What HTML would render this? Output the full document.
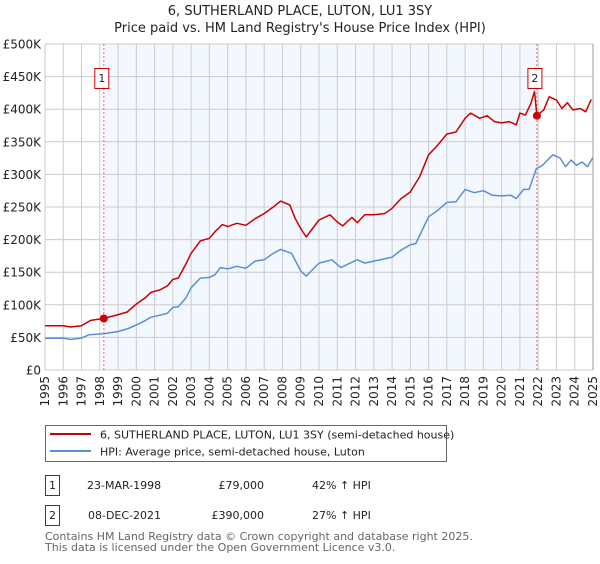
<!DOCTYPE html>
<html><head><meta charset="utf-8"><style>
body{margin:0;background:#fff;width:600px;height:560px;overflow:hidden;font-family:"DejaVu Sans","Liberation Sans",sans-serif;}
svg text{font-family:"DejaVu Sans","Liberation Sans",sans-serif;}
</style></head><body>
<svg id="chart" width="600" height="560" viewBox="0 0 600 560" xmlns="http://www.w3.org/2000/svg">
<text x="300" y="15" font-size="13" text-anchor="middle" fill="#222">6, SUTHERLAND PLACE, LUTON, LU1 3SY</text>
<text x="300" y="32" font-size="13" text-anchor="middle" fill="#222">Price paid vs. HM Land Registry's House Price Index (HPI)</text>
<g id="grid"></g>
<g id="marks"></g>
<g id="axes"></g>
<g>
<rect x="45.5" y="425.5" width="401" height="36" fill="#fff" stroke="#666"/>
<line x1="50" y1="434" x2="91" y2="434" stroke="#cc0000" stroke-width="2"/>
<text x="100" y="438.5" font-size="11" fill="#222">6, SUTHERLAND PLACE, LUTON, LU1 3SY (semi-detached house)</text>
<line x1="50" y1="451" x2="91" y2="451" stroke="#5b8fd4" stroke-width="2"/>
<text x="100" y="455.5" font-size="11" fill="#222">HPI: Average price, semi-detached house, Luton</text>
</g>
<g font-size="11" fill="#222">
<rect x="45.5" y="475.5" width="14" height="20" fill="#fff" stroke="#cc0000"/>
<text x="52.5" y="489" text-anchor="middle">1</text>
<text x="87" y="489">23-MAR-1998</text>
<text x="264" y="489" text-anchor="end">£79,000</text>
<text x="312" y="489">42% ↑ HPI</text>
<rect x="45.5" y="505.5" width="14" height="20" fill="#fff" stroke="#cc0000"/>
<text x="52.5" y="519" text-anchor="middle">2</text>
<text x="88" y="519">08-DEC-2021</text>
<text x="264" y="519" text-anchor="end">£390,000</text>
<text x="312" y="519">27% ↑ HPI</text>
</g>
<text x="45" y="540" font-size="11" fill="#666">Contains HM Land Registry data © Crown copyright and database right 2025.</text>
<text x="45" y="551" font-size="11" fill="#666">This data is licensed under the Open Government Licence v3.0.</text>
</svg>
<script>
const yearTicks=[1995,1996,1997,1998,1999,2000,2001,2002,2003,2004,2005,2006,2007,2008,2009,2010,2011,2012,2013,2014,2015,2016,2017,2018,2019,2020,2021,2022,2023,2024,2025];
const valueTicks=[0,50,100,150,200,250,300,350,400,450,500];
const valueTickLabels=["£0","£50K","£100K","£150K","£200K","£250K","£300K","£350K","£400K","£450K","£500K"];
const hpiYears=[1995,1996,1996.4,1997,1997.4,1998.2,1999,1999.5,2000,2000.5,2000.8,2001.3,2001.7,2002,2002.3,2002.7,2003,2003.5,2004,2004.3,2004.6,2005,2005.5,2006,2006.5,2007,2007.5,2007.9,2008.5,2009,2009.3,2010,2010.7,2011.2,2011.7,2012.1,2012.5,2013,2014,2014.5,2015,2015.3,2016,2016.5,2017,2017.5,2018,2018.5,2019,2019.5,2020,2020.5,2020.8,2021.2,2021.5,2021.9,2022.2,2022.8,2023.2,2023.5,2023.8,2024.1,2024.4,2024.7,2025];
const hpiValues=[48.6,49,47,49,54,55.5,59,63,69,76,81,84,87,96,97,110,126,141,142,146,157,155,159,156,167,169,179,185,179,152,144,164,169,157,164,169,164,167,173,184,192,194,235,245,257,258,277,272,275,268,267,268,263,277,277,309,313,330,325,312,322,314,319,312,326];
const priceYears=[1995,1996,1996.4,1997,1997.5,1998.2,1999,1999.5,2000,2000.5,2000.8,2001.3,2001.7,2002,2002.3,2002.7,2003,2003.5,2004,2004.3,2004.7,2005,2005.5,2006,2006.5,2007,2007.5,2007.9,2008.4,2008.7,2009,2009.3,2010,2010.6,2011,2011.3,2011.8,2012.1,2012.5,2013,2013.6,2014,2014.5,2015,2015.5,2016,2016.5,2017,2017.5,2018,2018.3,2018.8,2019.2,2019.6,2020,2020.4,2020.8,2021,2021.3,2021.6,2021.8,2021.93,2022.3,2022.6,2023,2023.3,2023.6,2023.9,2024.3,2024.6,2024.9];
const priceValues=[68,68,66,68,76,79,85,89,101,111,119,123,129,139,141,162,179,198,202,212,223,220,225,222,232,240,250,259,253,232,217,204,230,238,227,221,234,226,238,238,240,248,263,273,296,330,345,362,365,386,394,386,390,381,379,381,376,394,391,409,427,390,399,419,414,401,410,399,401,396,415];
const saleLabels=["1","2"];
const saleYears=[1998.22,2021.93];
const saleValues=[79,390];

const X0=45,X1=593,Y0=370,Y1=44;
function xs(y){return X0+(y-1995)/30*(X1-X0);}
function ys(v){return Y0-v/500*(Y0-Y1);}
const NS="http://www.w3.org/2000/svg";
function mk(tag,attrs,parent){const e=document.createElementNS(NS,tag);for(const k in attrs)e.setAttribute(k,attrs[k]);parent.appendChild(e);return e;}
const grid=document.getElementById('grid'),marks=document.getElementById('marks'),axes=document.getElementById('axes');

const shade=mk('rect',{x:xs(saleYears[0]),y:Y1,width:xs(saleYears[1])-xs(saleYears[0]),height:Y0-Y1,fill:'#f3f7fe'},grid);


yearTicks.forEach(y=>{
  const l=mk('line',{x1:xs(y),x2:xs(y),y1:Y1,y2:Y0,stroke:'#cccccc','stroke-width':1},grid);
  
  
  const t=mk('text',{x:0,y:0,'font-size':12,fill:'#222','text-anchor':'end',transform:`translate(${xs(y)+4},${Y0+6}) rotate(-90)`},axes);
  t.textContent=y;
  
  
});
valueTicks.forEach((v,i)=>{
  const l=mk('line',{x1:X0,x2:X1,y1:ys(v),y2:ys(v),stroke:'#cccccc','stroke-width':1},grid);
  
  
  const t=mk('text',{x:X0-4,y:ys(v)+4.5,'font-size':12,fill:'#222','text-anchor':'end'},axes);
  t.textContent=valueTickLabels[i];
  
  
});
saleYears.forEach((y,i)=>{
  const l=mk('line',{x1:xs(y),x2:xs(y),y1:Y1,y2:Y0,stroke:'#ee6666','stroke-width':1,'stroke-dasharray':'2,2'},marks);
  
  
});
function path(xsArr,vs,color,name){
  let d=xsArr.map((y,i)=>(i?'L':'M')+xs(y).toFixed(1)+','+ys(vs[i]).toFixed(1)).join(' ');
  const p=mk('path',{d:d,fill:'none',stroke:color,'stroke-width':1.5,'stroke-linejoin':'round'},marks);
  
  
}
path(hpiYears,hpiValues,'#5b8fd4','hpi-line');
path(priceYears,priceValues,'#cc0000','property-price-line');
saleYears.forEach((y,i)=>{
  const c=mk('circle',{cx:xs(y),cy:ys(saleValues[i]),r:4,fill:'#cc0000'},marks);
  
  
  const bx=xs(y)-7;
  const b=mk('rect',{x:bx-2,y:68.5,width:14,height:20,fill:'#fff',stroke:'#cc0000'},marks);
  
  
  const t=mk('text',{x:bx+5,y:82,'font-size':11,fill:'#222','text-anchor':'middle'},marks);
  t.textContent=saleLabels[i];
  
  
});
const r=mk('line',{x1:X1,x2:X1,y1:Y1,y2:Y0,stroke:'#999','stroke-width':1},axes);


</script>
</body></html>
